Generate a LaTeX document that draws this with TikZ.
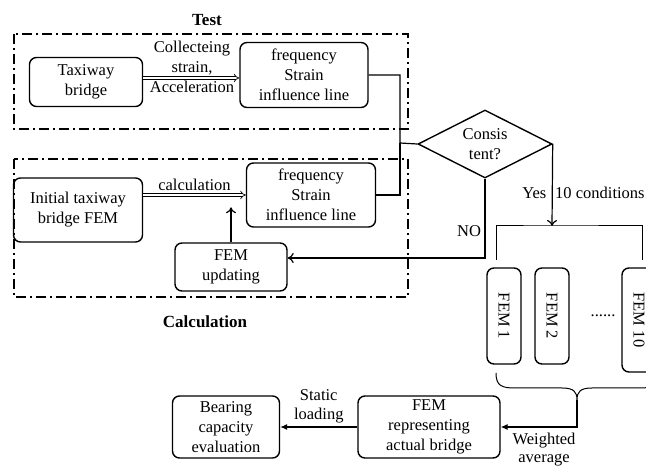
\documentclass[tikz,border=0pt]{standalone}
\usepackage{fontspec}
\setmainfont{Liberation Serif}
\usetikzlibrary{arrows.meta,shapes.geometric}

\tikzset{
  box/.style={draw, line width=1.4pt, rounded corners=7pt, align=center, inner sep=1pt},
  femslot/.style={box, rotate=-90, minimum width=96pt, minimum height=34pt},
  zone/.style={line width=1.4pt, dash pattern=on 10pt off 4pt on 2pt off 4pt},
  hollow/.style={double, double distance=2.2pt, line width=0.7pt, -{Implies}},
  flow/.style={line width=1.2pt, -{To[length=6pt,width=10pt]}},
  solid arrow/.style={line width=1.1pt, -{Latex[length=7pt,width=6pt]}}
}

\begin{document}
\begin{tikzpicture}[x=1pt, y=-1pt, font=\fontsize{16.5}{20}\selectfont]
            \useasboundingbox (0,0) rectangle (646,470);
            \clip (0,0) rectangle (646,470);

            % test part
            \node[font=\fontsize{17}{20}\selectfont\bfseries] (testlbl) at (207,20) {Test};
            \draw[zone] (14,34) rectangle (408,129);
            \node[box, minimum width=113pt, minimum height=49pt] (taxi) at (86,82) {Taxiway\\bridge};
            \node[box, minimum width=128pt, minimum height=65pt] (freqA) at (304,75) {frequency\\Strain\\influence line};
            \node[align=center] (collect) at (192,67) {Collecteing\\strain,\\Acceleration};

            % calculation part
            \node[font=\fontsize{17}{20}\selectfont\bfseries] (calclbl) at (205,322) {Calculation};
            \draw[zone] (14,159) rectangle (408,297);
            \node[box, minimum width=129pt, minimum height=64pt] (init) at (78,210) {Initial taxiway\\bridge FEM};
            \node[box, minimum width=129pt, minimum height=64pt] (freqB) at (311,195) {frequency\\Strain\\influence line};
            \node[box, minimum width=112pt, minimum height=48pt] (update) at (231,267) {FEM\\updating};

            \node[draw, line width=1.4pt, diamond, aspect=2, minimum width=134pt, minimum height=68pt, inner sep=0pt, align=center] (check) at (485,144) {Consis\\tent?};

            % model set
            \node[femslot] (fem1) at (504,316) {FEM 1};
            \node[femslot] (fem2) at (552,316) {FEM 2};
            \node[femslot, minimum width=104pt] (fem10) at (639,320) {FEM 10};
            \node (dots) at (603,316) {......};

            \node[box, minimum width=142pt, minimum height=62pt] (rep) at (429,427) {FEM\\representing\\actual bridge};
            \node[box, minimum width=107pt, minimum height=62pt] (bear) at (226,427) {Bearing\\capacity\\evaluation};

            \coordinate (join) at (400,143);
            \coordinate (split) at (552,226);
            \coordinate (tip) at (577,400);

            \draw[hollow] (taxi.east |- 0,78) -- (freqA.west |- 0,78);
            \draw[hollow] (init.east |- freqB) -- (freqB.west) node[midway, above=1pt] {calculation};
            \draw[line width=1.2pt] (freqA.east) -| (join) -- (check.west);
            \draw[line width=1.2pt] (freqB.east) -| (join);
            \draw[flow] (update.north) -- ++(0,-35);
            \draw[flow] (check.south) |- ([yshift=9pt]update.east) node[pos=0.33, left] {NO};
            \draw[flow] (check.east) -- (split) node[pos=0.6, left=2pt] {Yes} node[pos=0.6, right=-1pt] {10 conditions};

            % bracket and brace
            \draw[line width=1pt] (496,260) |- (split) -| (642,260);
            \draw[line width=1pt] (496,373) .. controls (496,386) and (502,388) .. (515,388) -- (562,388)
                .. controls (574,388) and (577,392) .. (tip)
                .. controls (577,392) and (580,388) .. (592,388) -- (640,388)
                .. controls (652,388) and (658,386) .. (658,373);

            \draw[solid arrow] (tip) |- (rep.east);
            \node[align=center, font=\fontsize{16.5}{18}\selectfont] (weight) at (544,450) {Weighted\\average};
            \draw[solid arrow] (rep) -- (bear) node[midway, above, align=center, font=\fontsize{16.5}{19}\selectfont] {Static\\loading};
        \end{tikzpicture}
\end{document}
